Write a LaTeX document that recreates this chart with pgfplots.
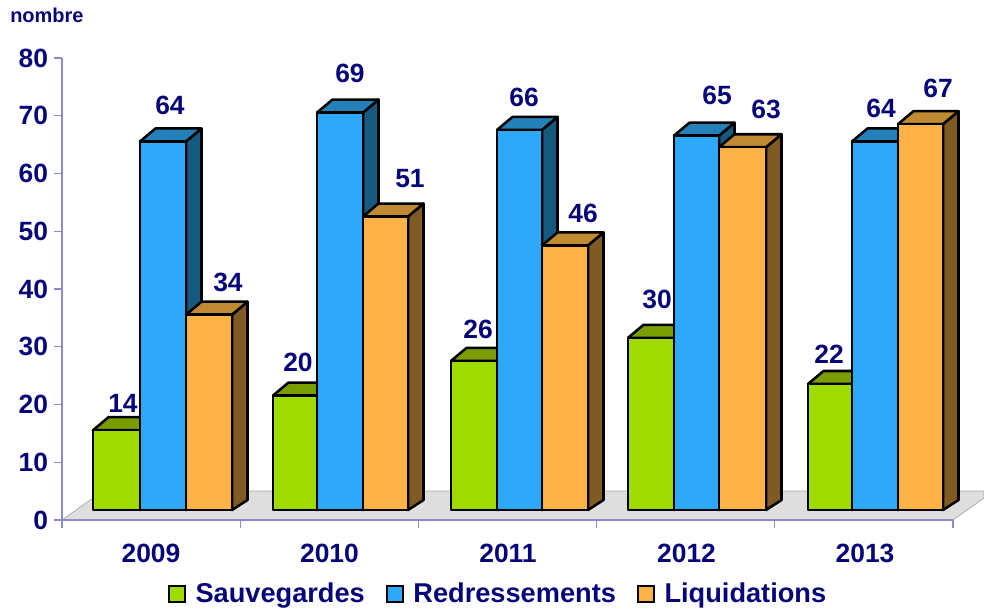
\documentclass[border=0pt]{standalone}
\usepackage{fontspec}
\setmainfont{Liberation Sans}
\usepackage{pgfplots}
\usepackage{pgfplotstable}
\pgfplotsset{compat=1.18}

\definecolor{texte}{HTML}{06067A}
\definecolor{axe}{HTML}{8C8CCC}
\definecolor{sol}{HTML}{DEDEDE}
\definecolor{vert}{HTML}{A0DB00}
\definecolor{verthaut}{HTML}{7A9E00}
\definecolor{vertcote}{HTML}{5A7600}
\definecolor{bleu}{HTML}{2EA8FA}
\definecolor{bleuhaut}{HTML}{2480B8}
\definecolor{bleucote}{HTML}{175A80}
\definecolor{orange}{HTML}{FFB347}
\definecolor{orangehaut}{HTML}{C08A35}
\definecolor{orangecote}{HTML}{7F5A22}

% x in reference pixels, y in chart units
\pgfplotstableread{
annee x0  x1  x2  x3  sauv redr liq
2009  93  140 186 232 14   64   34
2010  273 317 363 408 20   69   51
2011  451 497 542 588 26   66   46
2012  628 674 719 766 30   65   63
2013  808 852 898 943 22   64   67
}\donnees

% value labels: x, y of the centre of each label
\pgfplotstableread{
x   y     label
123 20.26 14
170 71.86 64
228 41.20 34
298 27.36 20
350 77.40 69
410 59.05 51
478 33.07 26
524 73.25 66
583 53.16 46
657 38.27 30
717 73.60 65
766 71.17 63
829 28.74 22
881 71.34 64
938 74.80 67
}\etiquettes

\def\socle{1.73}
\newcommand{\barre}[6]{%
  \pgfmathsetmacro\ya{#3+1.55}%
  \pgfmathsetmacro\yb{\ya+2.25}%
  \pgfmathsetmacro\yc{\socle+1.73}%
  \pgfmathsetmacro\xa{#1+15.5}%
  \pgfmathsetmacro\xb{#2+15.5}%
  \addplot[forget plot,draw=black,line width=1.9pt,line join=round,fill=#6]
    coordinates {(#2,\socle) (\xb,\yc) (\xb,\yb) (#2,\ya)} --cycle;
  \addplot[forget plot,draw=black,line width=1.9pt,line join=round,fill=#5]
    coordinates {(#1,\ya) (\xa,\yb) (\xb,\yb) (#2,\ya)} --cycle;
  \addplot[forget plot,draw=black,line width=1.9pt,line join=round,fill=#4]
    coordinates {(#1,\socle) (#1,\ya) (#2,\ya) (#2,\socle)} --cycle;
}

\begin{document}
\begin{tikzpicture}[x=0.75pt,y=0.75pt]
\useasboundingbox (-62,-92) rectangle (922,520);
\begin{axis}[
    at={(0,0)},anchor=south west,
    scale only axis,
    width=668.25pt,height=346.5pt,
    xmin=62,xmax=953,ymin=0,ymax=80,
    clip=false,
    axis on top,
    axis x line*=bottom,axis y line*=left,
    axis line style={axe,line width=0.8pt},
    tick style={axe,line width=0.8pt},
    major tick length=6pt,
    tick align=outside,
    xtick={62,240.2,418.4,596.6,774.8,953},
    xticklabels={},
    extra x ticks={151,329.5,508,686.5,865},
    extra x tick labels={2009,2010,2011,2012,2013},
    extra x tick style={major tick length=0pt,
      xticklabel style={yshift=-14.8pt}},
    ytick={0,10,...,80},
    yticklabel style={xshift=-1pt},
    /pgf/number format/assume math mode=true,
    ticklabel style={font=\fontsize{19.8}{22}\selectfont\bfseries,text=texte},
    legend columns=3,
    legend style={at={(0.490,-0.160)},anchor=center,draw=none,fill=none,
      font=\fontsize{20.4}{22}\selectfont\bfseries,text=texte,
      /tikz/every even column/.append style={column sep=14pt},
      /tikz/every odd column/.append style={column sep=5pt}},
    legend image code/.code={
      \draw[#1,draw=black,line width=1.4pt] (0pt,-6pt) rectangle (12pt,6pt);
    },
  ]
  % floor
  \addplot[forget plot,fill=sol,draw=gray!70,line width=0.5pt]
    coordinates {(62,0) (953,0) (984,3.8) (984,5.02) (103,5.02)} --cycle;

  \pgfplotsinvokeforeach{0,...,4}{
    \pgfplotstablegetelem{#1}{x0}\of\donnees \let\xzero\pgfplotsretval
    \pgfplotstablegetelem{#1}{x1}\of\donnees \let\xun\pgfplotsretval
    \pgfplotstablegetelem{#1}{x2}\of\donnees \let\xdeux\pgfplotsretval
    \pgfplotstablegetelem{#1}{x3}\of\donnees \let\xtrois\pgfplotsretval
    \pgfplotstablegetelem{#1}{sauv}\of\donnees \let\vsauv\pgfplotsretval
    \pgfplotstablegetelem{#1}{redr}\of\donnees \let\vredr\pgfplotsretval
    \pgfplotstablegetelem{#1}{liq}\of\donnees \let\vliq\pgfplotsretval
    \barre{\xzero}{\xun}{\vsauv}{vert}{verthaut}{vertcote}
    \barre{\xun}{\xdeux}{\vredr}{bleu}{bleuhaut}{bleucote}
    \barre{\xdeux}{\xtrois}{\vliq}{orange}{orangehaut}{orangecote}
  }

  \addplot[forget plot,draw=none,point meta=explicit symbolic,
    nodes near coords,
    nodes near coords style={anchor=center,inner sep=0pt,text=texte,
      font=\fontsize{19.8}{22}\selectfont\bfseries}]
    table[x=x,y=y,meta=label] {\etiquettes};

  \addlegendimage{fill=vert}
  \addlegendentry{Sauvegardes}
  \addlegendimage{fill=bleu}
  \addlegendentry{Redressements}
  \addlegendimage{fill=orange}
  \addlegendentry{Liquidations}

  \node[anchor=west,inner sep=0pt,text=texte,font=\fontsize{15}{17}\selectfont\bfseries]
    at (axis cs:10,87.4) {nombre};
\end{axis}
\end{tikzpicture}
\end{document}
